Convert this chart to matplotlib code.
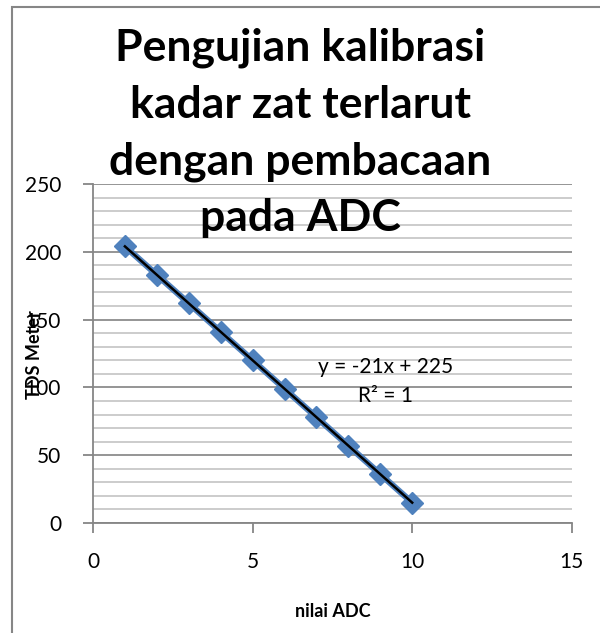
import matplotlib.pyplot as plt
from matplotlib.patches import Rectangle
from matplotlib.ticker import MultipleLocator
import numpy as np

# calibration readings
adc = [1, 2, 3, 4, 5, 6, 7, 8, 9, 10]
tds = [204, 183, 162, 141, 120, 99, 78, 57, 36, 15]
x_ticks = [0, 5, 10, 15]
y_ticks = [0, 50, 100, 150, 200, 250]

plt.rcParams['font.family'] = ['Lato', 'DejaVu Sans']

fig = plt.figure(figsize=(6, 6.33), dpi=100)
ax = fig.add_axes([0.155, 0.1738, 0.798, 0.5355])

# chart border
fig.patches.append(Rectangle((12 / 600, -0.05), 1.0, 1 - 7 / 633 + 0.05,
                             transform=fig.transFigure, fill=False,
                             edgecolor='#868686', lw=1.5))

# horizontal gridlines, minor every 10 and major every 50
ax.yaxis.set_minor_locator(MultipleLocator(10))
ax.grid(axis='y', which='minor', color='#c8c8c8', lw=1.3)
ax.grid(axis='y', which='major', color='#8c8c8c', lw=1.3)
ax.set_axisbelow(True)

ax.plot(adc, tds, color='#4f81bd', lw=4.5, marker='D', ms=11,
        mfc='#4f81bd', mec='#4f81bd', zorder=3)

# linear trendline
k, c = np.polyfit(adc, tds, 1)
xs = np.array([adc[0], adc[-1]])
ax.plot(xs, k * xs + c, color='black', lw=1.8, zorder=4)

ax.text(9.15, 115, 'y = %dx + %d' % (round(k), round(c)), fontsize=15, ha='center', va='center')
ax.text(9.15, 94, 'R² = 1', fontsize=15, ha='center', va='center')

ax.set_xlim(0, 15)
ax.set_ylim(0, 250)
ax.set_xticks(x_ticks)
ax.set_yticks(y_ticks)
ax.tick_params(axis='both', which='major', length=7, color='#868686', width=1.3,
               labelsize=15)
ax.tick_params(axis='y', pad=16)
ax.tick_params(axis='x', pad=14)
ax.tick_params(axis='y', which='minor', length=0)
for s in ['top', 'right']:
    ax.spines[s].set_visible(False)
for s in ['left', 'bottom']:
    ax.spines[s].set_color('#868686')
    ax.spines[s].set_linewidth(1.3)

ax.set_xlabel('nilai ADC', fontsize=13, fontweight='bold', labelpad=22)
fig.text(35 / 600, 1 - 355 / 633, 'TDS Meter', rotation=90, fontsize=13,
         fontweight='bold', ha='center', va='center')

fig.text(0.5, 1 - 133 / 633, 'Pengujian kalibrasi\nkadar zat terlarut\ndengan pembacaan\npada ADC',
         ha='center', va='center', fontsize=32, fontweight='bold', linespacing=1.5)

fig.savefig('out.png', dpi=100)
